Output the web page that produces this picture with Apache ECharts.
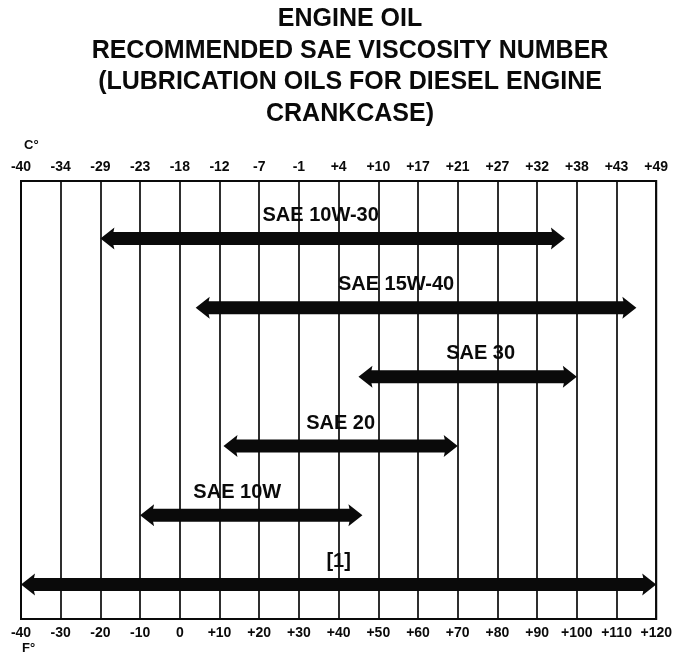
<!DOCTYPE html>
<html>
<head>
<meta charset="utf-8">
<title>Engine oil viscosity</title>
<script src="https://cdn.jsdelivr.net/npm/echarts@6/dist/echarts.min.js"></script>
<style>
  html, body { margin: 0; padding: 0; background: #fff; }
  #chart { width: 675px; height: 656px; }
</style>
</head>
<body>
<div id="chart"></div>
<script>
// Temperature scale, in degrees Fahrenheit, with the matching Celsius labels
const fahrenheitTicks = [-40, -30, -20, -10, 0, 10, 20, 30, 40, 50, 60, 70, 80, 90, 100, 110, 120];
const celsiusLabels = ['-40', '-34', '-29', '-23', '-18', '-12', '-7', '-1', '+4', '+10', '+17', '+21', '+27', '+32', '+38', '+43', '+49'];

// Oil grades (bottom row first) and their usable ranges in degrees Fahrenheit
const grades = ['[1]', 'SAE 10W', 'SAE 20', 'SAE 30', 'SAE 15W-40', 'SAE 10W-30'];
const rangeLow = [-40, -10, 11, 45, 4, -20];
const rangeHigh = [120, 46, 70, 100, 115, 97];

const titleLines = [
  'ENGINE OIL',
  'RECOMMENDED SAE VISCOSITY NUMBER',
  '(LUBRICATION OILS FOR DIESEL ENGINE',
  'CRANKCASE)'
];

// Horizontal nudges (px) for each grade caption, bottom row first
const captionShift = [0, -14, 0, 13, -20, -12];

const rows = grades.map((g, i) => [rangeLow[i], rangeHigh[i], i, g]);

const FONT = '"Liberation Sans", Arial, Helvetica, sans-serif';

function signed(v) {
  return v > 0 ? '+' + v : String(v);
}

// Double-headed arrow spanning one grade's temperature range, with its caption above
function renderArrow(params, api) {
  const row = api.value(2);
  const a = api.coord([api.value(0), row]);
  const b = api.coord([api.value(1), row]);
  const y = a[1];
  const x1 = a[0], x2 = b[0];
  const h = 6.5, H = 11, L = 14;
  const pts = [
    [x1, y], [x1 + L, y - H], [x1 + L - 1, y - h], [x2 - L + 1, y - h], [x2 - L, y - H],
    [x2, y], [x2 - L, y + H], [x2 - L + 1, y + h], [x1 + L - 1, y + h], [x1 + L, y + H]
  ];
  const idx = params.dataIndex;
  return {
    type: 'group',
    children: [
      {
        type: 'polygon',
        shape: { points: pts },
        style: { fill: '#0a0a0a' }
      },
      {
        type: 'text',
        x: (x1 + x2) / 2 + captionShift[idx],
        y: y - 23,
        style: {
          text: grades[idx],
          font: 'bold 20px ' + FONT,
          fill: '#0a0a0a',
          align: 'center',
          verticalAlign: 'middle'
        }
      }
    ]
  };
}

const chart = echarts.init(document.getElementById('chart'), null, { renderer: 'canvas' });

chart.setOption({
  backgroundColor: '#ffffff',
  animation: false,
  title: titleLines.map((t, i) => ({
    text: t,
    left: 345,
    textAlign: 'center',
    top: 2 + i * 31.5,
    textStyle: { fontFamily: FONT, fontSize: 25, fontWeight: 'bold', color: '#0a0a0a' }
  })),
  graphic: [
    {
      type: 'text', left: 24, top: 139,
      style: { text: 'C°', font: 'bold 13px ' + FONT, fill: '#0a0a0a' }
    },
    {
      type: 'text', left: 22, top: 642,
      style: { text: 'F°', font: 'bold 13px ' + FONT, fill: '#0a0a0a' }
    }
  ],
  grid: {
    left: 21, right: 18, top: 181, bottom: 37,
    show: true, borderColor: '#0a0a0a', borderWidth: 2, backgroundColor: 'transparent'
  },
  xAxis: [
    {
      type: 'value', position: 'bottom',
      min: -40, max: 120, interval: 10,
      axisLine: { show: false }, axisTick: { show: false },
      splitLine: { show: true, lineStyle: { color: '#0a0a0a', width: 1.7 } },
      axisLabel: {
        margin: 7, fontFamily: FONT, fontSize: 14, fontWeight: 'bold', color: '#0a0a0a',
        showMinLabel: true, showMaxLabel: true,
        formatter: v => signed(v)
      }
    },
    {
      type: 'value', position: 'top',
      min: -40, max: 120, interval: 10,
      axisLine: { show: false }, axisTick: { show: false },
      splitLine: { show: false },
      axisLabel: {
        margin: 7, fontFamily: FONT, fontSize: 14, fontWeight: 'bold', color: '#0a0a0a',
        showMinLabel: true, showMaxLabel: true,
        formatter: v => celsiusLabels[fahrenheitTicks.indexOf(v)]
      }
    }
  ],
  yAxis: {
    type: 'value', min: -0.5, max: 5.83,
    show: false, splitLine: { show: false }
  },
  series: [
    {
      type: 'custom',
      xAxisIndex: 0,
      renderItem: renderArrow,
      encode: { x: [0, 1], y: 2 },
      data: rows,
      silent: true
    }
  ]
});
</script>
</body>
</html>
